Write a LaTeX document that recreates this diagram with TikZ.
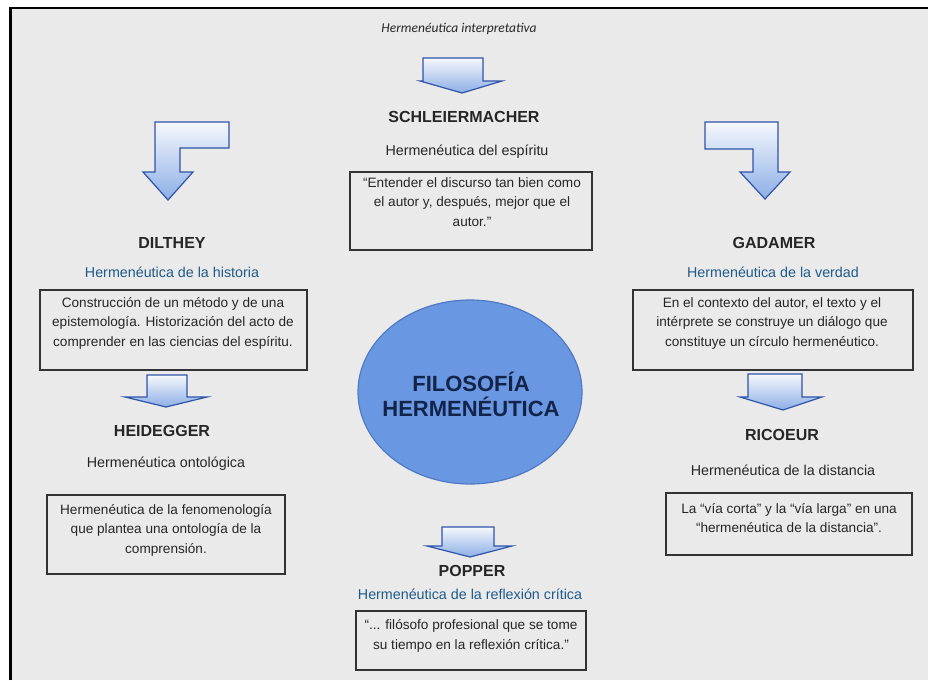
\documentclass[tikz,border=0pt]{standalone}
\usepackage{fontspec}
\setmainfont{Liberation Sans}
\newfontfamily\calibfont{Carlito}
\definecolor{bg}{HTML}{EAEAEA}
\definecolor{ttl}{HTML}{1F5A8A}
\definecolor{txt}{HTML}{262626}
\definecolor{arrline}{HTML}{2F54A8}
\definecolor{arrtop}{HTML}{F6F8FC}
\definecolor{arrbot}{HTML}{8CAEE6}
\definecolor{ellfill}{HTML}{6A97E2}
\definecolor{elldraw}{HTML}{4E79C6}
\definecolor{elltext}{HTML}{13244A}
\tikzset{
  namest/.style={font=\fontsize{16}{18}\selectfont\bfseries, text=txt, inner sep=0pt},
  subst/.style={font=\fontsize{14.3}{16}\selectfont, text=txt, inner sep=0pt},
  subblue/.style={font=\fontsize{14.3}{16}\selectfont, text=ttl, inner sep=0pt},
  boxst/.style={draw=black!80, line width=1.5pt, fill=bg},
  qtext/.style={font=\fontsize{13.6}{19.5}\selectfont, text=txt, align=center, inner sep=0pt},
  arrowst/.style={top color=arrtop, bottom color=arrbot, draw=arrline, line width=1.2pt, line join=miter}
}
\begin{document}
\begin{tikzpicture}[x=1pt,y=-1pt]
\useasboundingbox (0,0) rectangle (928,680);
\fill[white] (0,0) rectangle (928,680);
\fill[bg] (10.5,8) rectangle (928,680);
\draw[black, line width=2.2pt] (10.5,680) -- (10.5,8) -- (928,8);

% top label
\node[font=\calibfont\itshape\fontsize{13.5}{15}\selectfont, text=txt, inner sep=0pt] (top) at (459,29) {Hermenéutica interpretativa};

% block arrows
\shade[arrowst] (423,58) -- (483,58) -- (483,81) -- (502,81) -- (462,93) -- (420,81) -- (423,81) -- cycle;
\shade[arrowst] (155,122) -- (229,122) -- (229,148) -- (180,148) -- (180,172) -- (193,172) -- (168,200) -- (143,172) -- (155,172) -- cycle;
\shade[arrowst] (705,122) -- (778,122) -- (778,172) -- (790,172) -- (765,199) -- (740,172) -- (753,172) -- (753,149) -- (705,149) -- cycle;
\shade[arrowst] (147,375) -- (187,375) -- (187,397) -- (207,397) -- (166,407) -- (125,397) -- (147,397) -- cycle;
\shade[arrowst] (748,374) -- (802,374) -- (802,397) -- (822,397) -- (783,410) -- (740,397) -- (748,397) -- cycle;
\shade[arrowst] (442,527) -- (494,527) -- (494,546) -- (512,546) -- (470,557) -- (427,546) -- (442,546) -- cycle;

% Schleiermacher
\node[namest] (sch) at (464,117) {SCHLEIERMACHER};
\node[subst] (schs) at (467,152) {Hermenéutica del espíritu};
\node[boxst, minimum width=242pt, minimum height=78pt] (b1) at (471,211) {};
\node[qtext] (t1) at (472,202) {“Entender el discurso tan bien como\\el autor y, después, mejor que el\\autor.”};

% Dilthey
\node[namest] (dil) at (172,243) {DILTHEY};
\node[subblue] (dils) at (172,272) {Hermenéutica de la historia};
\node[boxst, minimum width=267pt, minimum height=80pt] (b2) at (173.5,330) {};
\node[qtext] (t2) at (173,323) {Construcción de un método y de una\\epistemología. Historización del acto de\\comprender en las ciencias del espíritu.};

% Heidegger
\node[namest] (hei) at (162,431) {HEIDEGGER};
\node[subst] (heis) at (166,464) {Hermenéutica ontológica};
\node[boxst, minimum width=238pt, minimum height=79pt] (b4) at (166,534.5) {};
\node[qtext] (t4) at (166,530) {Hermenéutica de la fenomenología\\que plantea una ontología de la\\comprensión.};

% Gadamer
\node[namest] (gad) at (774,243) {GADAMER};
\node[subblue] (gads) at (773,272) {Hermenéutica de la verdad};
\node[boxst, minimum width=280pt, minimum height=80pt] (b3) at (773,330) {};
\node[qtext] (t3) at (772,323) {En el contexto del autor, el texto y el\\intérprete se construye un diálogo que\\constituye un círculo hermenéutico.};

% Ricoeur
\node[namest] (ric) at (782,435) {RICOEUR};
\node[subst] (rics) at (783,470) {Hermenéutica de la distancia};
\node[boxst, minimum width=246pt, minimum height=62pt] (b5) at (789,524) {};
\node[qtext] (t5) at (789,518) {La “vía corta” y la “vía larga” en una\\“hermenéutica de la distancia”.};

% Popper
\node[namest] (pop) at (472,571) {POPPER};
\node[subblue] (pops) at (470,594) {Hermenéutica de la reflexión crítica};
\node[boxst, minimum width=230pt, minimum height=59pt] (b6) at (471,640.5) {};
\node[qtext] (t6) at (471,636) {“... filósofo profesional que se tome\\su tiempo en la reflexión crítica.”};

% center ellipse
\fill[ellfill] (470,392) ellipse [x radius=112, y radius=92];
\draw[elldraw, line width=1.2pt] (470,392) ellipse [x radius=112, y radius=92];
\node[font=\fontsize{22}{25}\selectfont\bfseries, text=elltext, align=center, inner sep=0pt] (fh) at (471,394) {FILOSOFÍA\\HERMENÉUTICA};
\end{tikzpicture}
\end{document}
